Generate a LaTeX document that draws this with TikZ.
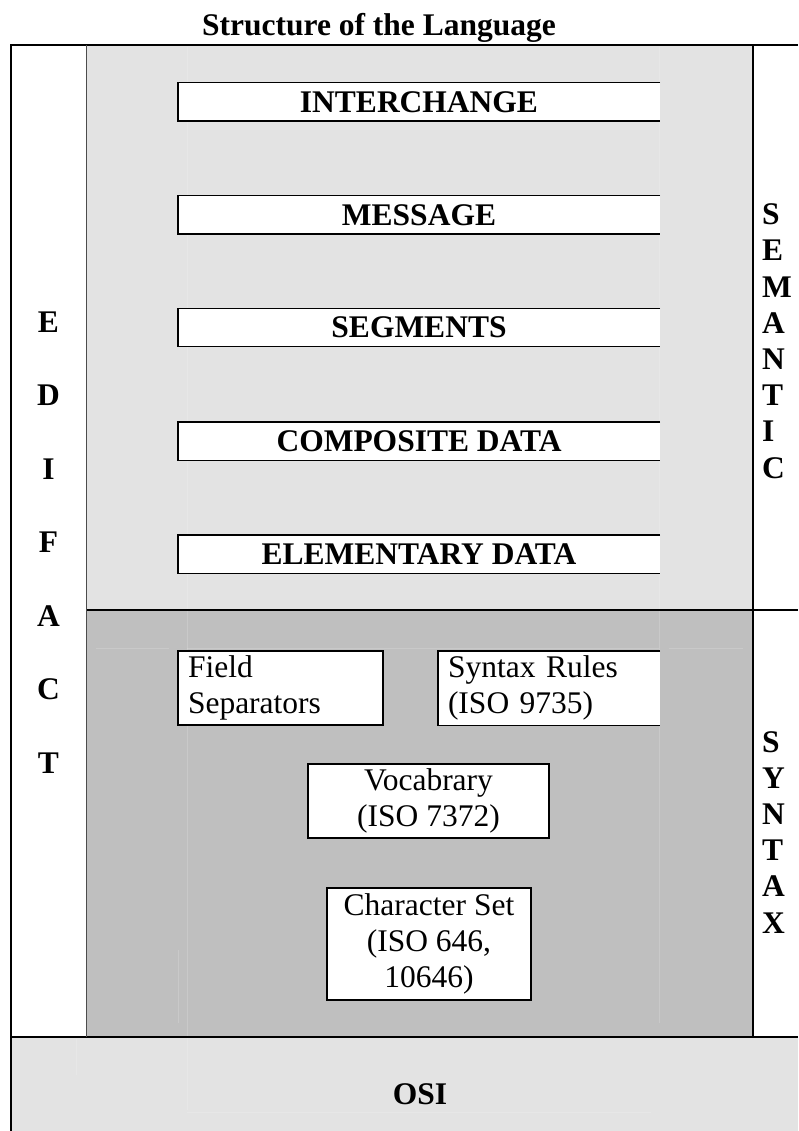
\documentclass[tikz,border=0pt]{standalone}
\usepackage{fontspec}
\setmainfont{Liberation Serif}

\definecolor{upperfill}{HTML}{E3E3E3}
\definecolor{lowerfill}{HTML}{BFBFBF}

\newcommand{\labelfont}{\fontsize{31.5}{36.2}\selectfont}

\tikzset{
  plain/.style={font=\labelfont, inner sep=0pt},
  heading/.style={font=\labelfont\bfseries, inner sep=0pt},
  boxline/.style={draw=black, line width=1.4pt},
  frameline/.style={draw=black, line width=1.4pt},
  faintline/.style={draw=white, opacity=0.16, line width=0.8pt},
  layerbox/.style={heading, fill=white, minimum width=482pt, minimum height=38pt},
  syntaxbox/.style={plain, fill=white, minimum height=74pt, inner xsep=10pt}
}

\begin{document}
\begin{tikzpicture}[x=1pt, y=-1pt]
\useasboundingbox (0,0) rectangle (798,1131);

% shaded bands
\fill[upperfill] (86,45) rectangle (753,610);
\fill[lowerfill] (86,610) rectangle (753,1037);
\fill[upperfill] (11,1037) rectangle (798,1131);

% faint table grid inside the bands
\draw[faintline] (187,47) -- (187,1110);
\draw[faintline] (659,47) -- (659,1023);
\draw[faintline] (178,950) -- (178,1023);
\draw[faintline] (96,648) -- (169,648);
\draw[faintline] (187,648) -- (659,648);
\draw[faintline] (669,648) -- (743,648);
\draw[faintline] (187,1112) -- (651,1112);
\draw[faintline] (76,1039) -- (76,1075);

% title
\node[heading, anchor=base] (title) at (379,36) {Structure of the Language};

% semantic layers (boxes open on the right)
\foreach \n/\y/\t in {inter/102/INTERCHANGE, msg/215/MESSAGE, seg/327.5/SEGMENTS,
                      comp/441/COMPOSITE DATA, elem/554/ELEMENTARY DATA} {
  \node[layerbox] (\n) at (419,\y) {\t};
  \draw[boxline] (\n.north east) -- (\n.north west) -- (\n.south west) -- (\n.south east);
}

% syntax components
\node[syntaxbox, draw=black, line width=1.4pt, minimum width=205pt,
      text width=185pt, align=left] (field) at (280.5,688) {Field\\Separators};
\node[syntaxbox, minimum width=222pt, text width=202pt, align=left]
      (rules) at (549,688) {Syntax Rules\\(ISO 9735)};
\draw[boxline] (rules.north east) -- (rules.north west) -- (rules.south west) -- (rules.south east);
\node[syntaxbox, draw=black, line width=1.4pt, minimum width=241pt, align=center]
      (vocab) at (428.5,801) {Vocabrary\\(ISO 7372)};
\node[syntaxbox, draw=black, line width=1.4pt, minimum width=204pt,
      minimum height=112pt, align=center]
      (charset) at (429,944) {Character Set\\(ISO 646,\\10646)};

% side labels
\node[font=\fontsize{31.5}{73.5}\selectfont\bfseries, inner sep=0pt, align=center]
      (edifact) at (48.5,542.5) {E\\D\\I\\F\\A\\C\\T};
\node[heading, align=left, anchor=north west] (semantic) at (762,203.7)
      {S\\E\\M\\A\\N\\T\\I\\C};
\node[heading, align=left, anchor=north west] (syntax) at (762,731)
      {S\\Y\\N\\T\\A\\X};

% bottom layer
\node[heading] (osi) at (420,1094) {OSI};

% table frame
\draw[frameline] (11,1131) -- (11,45) -- (798,45);
\draw[frameline] (86,610) -- (798,610);
\draw[frameline] (11,1037) -- (798,1037);
\draw[draw=black, line width=1.8pt] (753,45) -- (753,1037);
\draw[draw=black!70, line width=0.9pt] (86,45) -- (86,1037);
\end{tikzpicture}
\end{document}
